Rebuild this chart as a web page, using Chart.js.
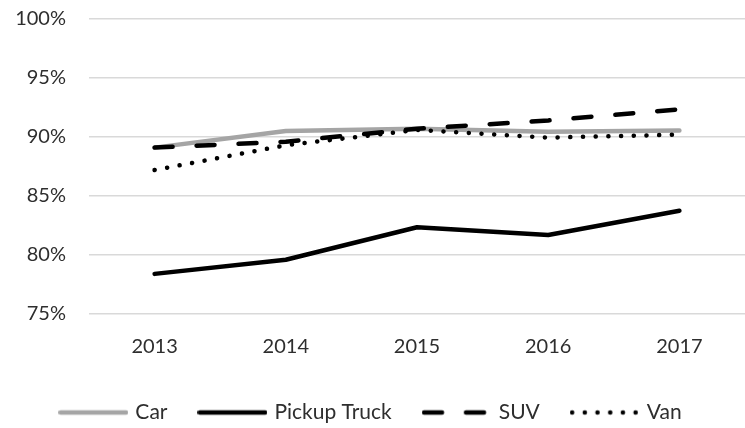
<!DOCTYPE html>
<html>
<head>
<meta charset="utf-8">
<script src="https://cdn.jsdelivr.net/npm/chart.js@4.4.1/dist/chart.umd.min.js"></script>
<style>
    html, body { margin: 0; padding: 0; background: #fff; overflow: hidden; }
    #grafico { display: block; }
</style>
</head>
<body>
<canvas id="grafico" width="745" height="428"></canvas>
<script>
/* dados (percentual) */
const ANOS = ['2013', '2014', '2015', '2016', '2017'];
const CAR = [89.1, 90.5, 90.7, 90.45, 90.55];
const PICKUP = [78.4, 79.6, 82.35, 81.7, 83.75];
const SUV = [89.1, 89.6, 90.7, 91.4, 92.35];
const VAN = [87.2, 89.3, 90.6, 89.95, 90.2];
const ROTULOS = ['Car', 'Pickup Truck', 'SUV', 'Van'];
const Y_MIN = 75, Y_MAX = 100, Y_PASSO = 5;

const COR = {
    cinza: '#a5a5a5',
    preto: '#000000',
    texto: '#2e2e2e',
    grade: '#d9d9d9',
};
const FONTE = { family: 'Lato', size: 20 };
const FONTE_LEGENDA = { family: 'Lato', size: 21 };
const ESPESSURA = 4.5;
const TRACEJADO = [18, 24];
const PONTILHADO = [0.1, 12.6];

// amostra de linha para a legenda (canvas pequeno usado como pointStyle)
function amostra(cor, traco) {
    const c = document.createElement('canvas');
    c.width = 70;
    c.height = 10;
    const g = c.getContext('2d');
    g.strokeStyle = cor;
    g.lineWidth = ESPESSURA;
    g.lineCap = 'round';
    g.setLineDash(traco);
    g.beginPath();
    g.moveTo(2.25, 5);
    g.lineTo(67.75, 5);
    g.stroke();
    return c;
}

const AMOSTRAS = [
    amostra(COR.cinza, []),
    amostra(COR.preto, []),
    amostra(COR.preto, TRACEJADO),
    amostra(COR.preto, PONTILHADO),
];

const base = { fill: false, pointRadius: 0, borderWidth: ESPESSURA, borderCapStyle: 'round', borderJoinStyle: 'round', tension: 0 };

new Chart(document.getElementById('grafico'), {
    type: 'line',
    data: {
        labels: ANOS,
        datasets: [
            { ...base, label: ROTULOS[0], data: CAR, borderColor: COR.cinza, order: 4 },
            { ...base, label: ROTULOS[1], data: PICKUP, borderColor: COR.preto, order: 3 },
            { ...base, label: ROTULOS[2], data: SUV, borderColor: COR.preto, borderDash: TRACEJADO, order: 2 },
            { ...base, label: ROTULOS[3], data: VAN, borderColor: COR.preto, borderDash: PONTILHADO, order: 1 },
        ]
    },
    options: {
        responsive: false,
        animation: false,
        devicePixelRatio: 1,
        layout: { padding: { top: 19, right: -8.5, bottom: -5, left: -10 } },
        plugins: {
            tooltip: { enabled: false },
            legend: {
                position: 'bottom',
                labels: {
                    usePointStyle: true,
                    pointStyleWidth: 63,
                    padding: 33.5,
                    font: FONTE_LEGENDA,
                    color: COR.texto,
                    generateLabels: chart => chart.data.datasets.map((ds, i) => ({
                        text: ds.label,
                        pointStyle: AMOSTRAS[i],
                        fontColor: COR.texto,
                        fillStyle: 'transparent',
                        strokeStyle: 'transparent',
                        lineWidth: 0,
                        hidden: false,
                        datasetIndex: i,
                    }))
                }
            }
        },
        scales: {
            x: {
                offset: true,
                grid: { display: false, drawTicks: false },
                border: { display: false },
                ticks: { font: FONTE, color: COR.texto, padding: 21, maxRotation: 0 },
                afterFit: s => { s.height = 54.5; }
            },
            y: {
                min: Y_MIN,
                max: Y_MAX,
                // marcas de tick invisíveis só para afastar os rótulos da grade
                grid: { color: COR.grade, lineWidth: 1.5, drawTicks: true, tickLength: 23, tickColor: 'transparent' },
                border: { display: false },
                ticks: {
                    stepSize: Y_PASSO,
                    font: FONTE,
                    color: COR.texto,
                    padding: 0,
                    callback: v => v + '%'
                },
                afterFit: s => { s.width = 99; }
            }
        }
    }
});
</script>
</body>
</html>
